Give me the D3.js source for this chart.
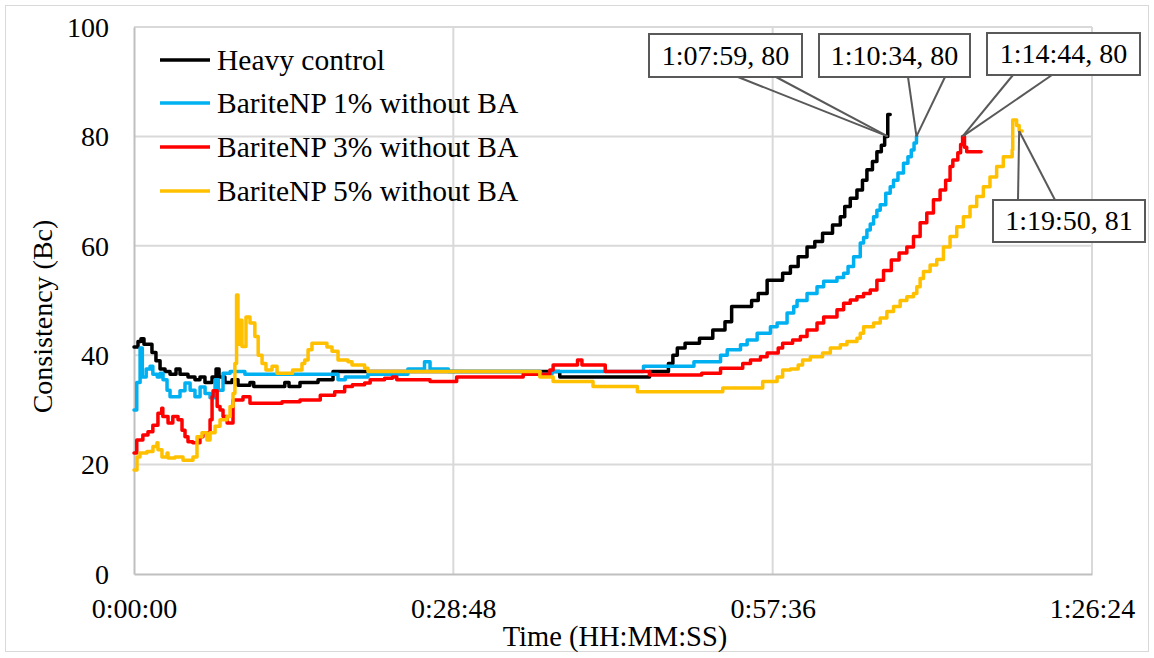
<!DOCTYPE html>
<html>
<head>
<meta charset="utf-8">
<script src="https://cdn.jsdelivr.net/npm/d3@7"></script>
<style>
  html, body { margin: 0; padding: 0; background: #ffffff; }
  svg text { font-family: "Liberation Serif", "Times New Roman", serif; fill: #000; }
</style>
</head>
<body>
<svg id="chart" width="1154" height="658"></svg>
<script>
// Consistency (Bc) versus elapsed time; times are in minutes.
const seriesNames = ["Heavy control", "BariteNP 1% without BA", "BariteNP 3% without BA", "BariteNP 5% without BA"];
const seriesColors = ["#000000", "#00b0f0", "#ff0000", "#ffc000"];

const heavyT = [0, 0.36, 0.63, 0.9, 1.62, 1.98, 2.35, 2.8, 3.25, 3.79, 4.15, 4.87, 5.5, 5.95, 6.4, 7.04, 7.4, 7.67, 8.2, 8.84, 9.38, 10.46, 10.8, 13.6, 13.98, 14.97, 16.6, 17.95, 38.4, 46.5, 48.2, 48.6, 49.0, 49.7, 51.0, 52.2, 53.3, 53.9, 55.7, 56.3, 57.1, 58.5, 59.2, 59.9, 60.7, 61.4, 62.1, 63.0, 63.7, 64.1, 64.6, 65.2, 65.7, 66.1, 66.6, 67.0, 67.4, 67.7, 67.98, 68.1, 68.2];
const heavyV = [41.5, 42.5, 43, 42, 40.5, 39, 37.5, 37, 36.5, 37.5, 36.5, 36, 35.5, 36, 35, 36, 37.5, 36, 35, 35.5, 34.5, 35, 34.3, 35, 34.3, 35, 35.5, 37, 36, 37, 38.5, 40, 41.3, 42.2, 43.1, 44.6, 46.1, 48.9, 50, 51.3, 53.7, 55, 56.2, 58, 59.8, 60.8, 62.3, 63.8, 65.3, 67.2, 68.7, 70.2, 72, 73.9, 75.4, 77.2, 78.4, 80, 84, 84, 84];

const np1T = [0, 0.25, 0.55, 0.75, 1.1, 1.45, 1.7, 2.1, 2.35, 2.62, 2.98, 3.25, 4.15, 4.6, 5.06, 5.5, 5.96, 6.41, 6.86, 7.31, 7.6, 8.03, 8.67, 10, 18.4, 19.05, 21.1, 24.7, 26.2, 26.7, 28.35, 36.65, 37.7, 45.95, 50.5, 52.9, 53.5, 54.7, 55.3, 56.2, 57.4, 58.0, 58.9, 59.5, 59.8, 60.7, 61.6, 62.2, 63.4, 64.0, 64.4, 64.9, 65.5, 65.8, 66.1, 66.4, 66.7, 67.0, 67.3, 67.8, 68.2, 68.5, 68.9, 69.4, 69.8, 70.1, 70.35, 70.57, 70.6];
const np1V = [30, 35, 41.3, 36, 37.5, 38, 36.5, 36, 36.7, 35.5, 33.6, 32.4, 33.5, 34.9, 33.6, 32.4, 34.2, 33, 32.2, 35.5, 33.6, 36.7, 37, 36.5, 35.5, 36, 36.5, 37.5, 38.8, 37.5, 37, 36.5, 37, 38, 38.8, 40, 41, 41.9, 42.8, 44, 45.2, 45.9, 47.7, 48.9, 50, 51.3, 52.5, 53.5, 54.2, 55, 56.2, 58, 60.5, 61.5, 62.9, 64, 65.3, 66.5, 67.5, 69.6, 70.8, 72, 73.3, 75.1, 76.3, 77.5, 78.8, 80, 80];

const np3T = [0, 0.25, 0.8, 1.26, 1.7, 2.16, 2.5, 2.6, 3.07, 3.5, 3.97, 4.33, 4.6, 4.87, 5.3, 5.95, 6.22, 6.86, 7.04, 7.13, 7.5, 7.76, 8.03, 8.4, 8.93, 9.83, 10.46, 13.35, 14.97, 16.8, 18.1, 19.0, 19.7, 20.8, 21.3, 22.6, 23.3, 23.7, 26.7, 29.1, 35.1, 37.5, 37.8, 40.0, 40.4, 42.5, 46.5, 51.2, 52.9, 54.9, 55.6, 56.5, 57.1, 58.1, 58.5, 59.4, 60.1, 60.7, 61.6, 62.2, 63.4, 64.0, 64.6, 65.2, 65.8, 66.4, 67.0, 67.6, 68.3, 69.0, 69.7, 70.3, 70.9, 71.5, 72.1, 72.7, 73.2, 73.6, 73.85, 74.3, 74.55, 74.73, 74.9, 75.1, 76.4];
const np3V = [22.1, 24.5, 25.4, 26, 27.2, 29.4, 30.3, 28.8, 27.6, 28.8, 28.2, 26.3, 25.1, 24.2, 24, 25.1, 25.8, 28.2, 32.4, 33.5, 30.6, 30, 28.8, 27.6, 31.8, 32.4, 31.2, 31.5, 31.8, 32.7, 33.3, 34.3, 34.6, 34.9, 35.5, 35.8, 36, 35.5, 35.2, 36, 36.5, 37.3, 38.2, 39.1, 38.2, 37, 36.4, 36.7, 37.6, 38.5, 39.1, 39.7, 40.4, 41.3, 42.2, 42.8, 43.4, 44.6, 45.9, 47, 48.3, 49.5, 50.1, 50.7, 51.3, 51.9, 53.7, 55.5, 57.4, 58.7, 59.8, 61.7, 64.2, 66, 68.4, 70.2, 72, 74.5, 75.7, 77, 78.5, 80, 78, 77.2, 77.2];

const np5T = [0, 0.27, 0.54, 1.17, 1.71, 2.07, 2.16, 2.52, 2.98, 3.07, 3.7, 4.42, 5.32, 5.68, 6.13, 6.58, 6.86, 7.31, 7.76, 8.39, 8.66, 8.93, 9.1, 9.25, 9.38, 9.56, 9.74, 10.1, 10.46, 10.9, 11.2, 11.55, 11.9, 12.45, 12.9, 14.3, 15.15, 15.4, 15.7, 16.05, 17.4, 17.86, 18.4, 19.3, 19.66, 20.8, 21.1, 36.6, 37.8, 41.4, 45.4, 53.1, 56.7, 58.0, 58.5, 59.2, 59.9, 60.3, 61.0, 62.1, 62.8, 63.7, 64.3, 65.2, 65.5, 65.8, 66.7, 67.3, 67.9, 68.5, 69.1, 69.7, 70.3, 70.6, 70.9, 71.2, 71.8, 72.4, 73.0, 73.6, 74.2, 74.8, 75.4, 76.0, 76.6, 77.2, 77.8, 78.4, 79.2, 79.25, 79.6, 79.83, 80.1];
const np5V = [19, 21.4, 22.1, 22.4, 23.3, 24, 22.7, 21.4, 22.1, 21.2, 21.4, 20.8, 21.4, 25.1, 25.8, 24.5, 25.8, 27, 28.2, 28.8, 30.6, 33, 38.5, 51, 42, 46.4, 41.6, 47, 45.9, 43.4, 40, 38.5, 37.3, 38, 36.7, 37.3, 38.5, 39.1, 41, 42.2, 41.5, 40.7, 39.1, 38.8, 38.2, 37.6, 37, 36, 35.2, 34.3, 33.3, 34, 35.2, 36, 37.3, 37.5, 38.2, 39.1, 39.7, 40.4, 41.3, 41.9, 42.5, 43.1, 44, 45.2, 45.9, 46.8, 48, 48.9, 50, 50.7, 51.3, 52.5, 54, 55.3, 56.5, 57.5, 59.8, 61.7, 63.5, 65.3, 67.2, 69, 70.8, 72.6, 74.5, 76.3, 77.5, 83, 82, 81, 81];

const seriesT = [heavyT, np1T, np3T, np5T];
const seriesV = [heavyV, np1V, np3V, np5V];

// Axis ticks
const xTicks = [0, 28.8, 57.6, 86.4];
const xTickLabels = ["0:00:00", "0:28:48", "0:57:36", "1:26:24"];
const yTicks = [0, 20, 40, 60, 80, 100];

// Callouts marking where each curve reaches its end point
const calloutT = [67.98, 70.57, 74.73, 79.83];
const calloutV = [80, 80, 80, 81];
const calloutLabels = ["1:07:59, 80", "1:10:34, 80", "1:14:44, 80", "1:19:50, 81"];

// ---- layout ----
const svg = d3.select("#chart");
const plot = { left: 134, right: 1092, top: 27, bottom: 574 };
const x = d3.scaleLinear().domain([0, 86.4]).range([plot.left, plot.right]);
const y = d3.scaleLinear().domain([0, 100]).range([plot.bottom, plot.top]);
const FONT = 28;

// outer frame
svg.append("rect")
  .attr("x", 5.5).attr("y", 5.5).attr("width", 1143).attr("height", 646)
  .attr("fill", "#fff").attr("stroke", "#d9d9d9").attr("stroke-width", 1);

// gridlines
const grid = svg.append("g");
grid.selectAll("line.h").data(yTicks.filter(d => d > 0)).join("line")
  .attr("x1", plot.left).attr("x2", plot.right)
  .attr("y1", d => y(d)).attr("y2", d => y(d))
  .attr("stroke", "#d9d9d9").attr("stroke-width", 2);
grid.selectAll("line.v").data(xTicks.filter(d => d > 0)).join("line")
  .attr("x1", d => x(d)).attr("x2", d => x(d))
  .attr("y1", plot.top).attr("y2", plot.bottom)
  .attr("stroke", "#d9d9d9").attr("stroke-width", 2);

// axes
const xAxis = d3.axisBottom(x).tickValues(xTicks)
  .tickFormat((d, i) => xTickLabels[i]).tickSize(0).tickPadding(24);
const yAxis = d3.axisLeft(y).tickValues(yTicks).tickSize(0).tickPadding(25);

const gx = svg.append("g").attr("transform", `translate(0,${plot.bottom})`).call(xAxis);
const gy = svg.append("g").attr("transform", `translate(${plot.left},0)`).call(yAxis);
[gx, gy].forEach(g => {
  g.select(".domain").attr("stroke", "#bfbfbf").attr("stroke-width", 2);
  g.selectAll("text").attr("font-size", FONT)
    .attr("font-family", '"Liberation Serif", "Times New Roman", serif').attr("fill", "#000");
});
gy.selectAll("text").attr("dy", "0.33em");

// axis titles
svg.append("text")
  .attr("x", (plot.left + plot.right) / 2 + 2).attr("y", 646)
  .attr("text-anchor", "middle").attr("font-size", 28.5)
  .text("Time (HH:MM:SS)");
svg.append("text")
  .attr("transform", `translate(52,${(plot.top + plot.bottom) / 2 + 16}) rotate(-90)`)
  .attr("text-anchor", "middle").attr("font-size", FONT)
  .text("Consistency (Bc)");

// series
const line = d3.line().curve(d3.curveStepAfter).x(d => x(d[0])).y(d => y(d[1]));
seriesNames.forEach((name, i) => {
  const pts = seriesT[i].map((t, j) => [t, seriesV[i][j]]);
  svg.append("path")
    .datum(pts)
    .attr("d", line)
    .attr("fill", "none")
    .attr("stroke", seriesColors[i])
    .attr("stroke-width", 3.5)
    .attr("stroke-linejoin", "round")
    .attr("stroke-linecap", "round");
});

// legend
const legend = svg.append("g");
const legendY = [60, 103, 147, 191];
seriesNames.forEach((name, i) => {
  legend.append("line")
    .attr("x1", 160).attr("x2", 210)
    .attr("y1", legendY[i]).attr("y2", legendY[i])
    .attr("stroke", seriesColors[i]).attr("stroke-width", 3.5);
  legend.append("text")
    .attr("x", 217).attr("y", legendY[i] + 10)
    .attr("font-size", 29.5)
    .text(name);
});

// callouts: box position and the two leader roots on the box edge
const calloutBoxes = [
  { left: 649, top: 34, w: 153, h: 43, edge: "bottom", roots: [89, 127] },
  { left: 819, top: 34, w: 151, h: 43, edge: "bottom", roots: [89, 126] },
  { left: 987, top: 33, w: 153, h: 42, edge: "bottom", roots: [26, 65] },
  { left: 993, top: 200, w: 152, h: 42, edge: "top", roots: [25, 62] }
];
calloutLabels.forEach((label, i) => {
  const b = calloutBoxes[i];
  const px = x(calloutT[i]), py = y(calloutV[i]);
  const ey = b.edge === "bottom" ? b.top + b.h : b.top;
  const g = svg.append("g");
  b.roots.forEach(r => {
    g.append("line")
      .attr("x1", b.left + r).attr("y1", ey).attr("x2", px).attr("y2", py)
      .attr("stroke", "#595959").attr("stroke-width", 2);
  });
  g.append("rect")
    .attr("x", b.left).attr("y", b.top).attr("width", b.w).attr("height", b.h)
    .attr("fill", "#fff").attr("stroke", "#595959").attr("stroke-width", 2);
  g.append("text")
    .attr("x", b.left + b.w / 2).attr("y", b.top + b.h / 2 + 9)
    .attr("text-anchor", "middle").attr("font-size", FONT)
    .text(label);
});
</script>
</body>
</html>
